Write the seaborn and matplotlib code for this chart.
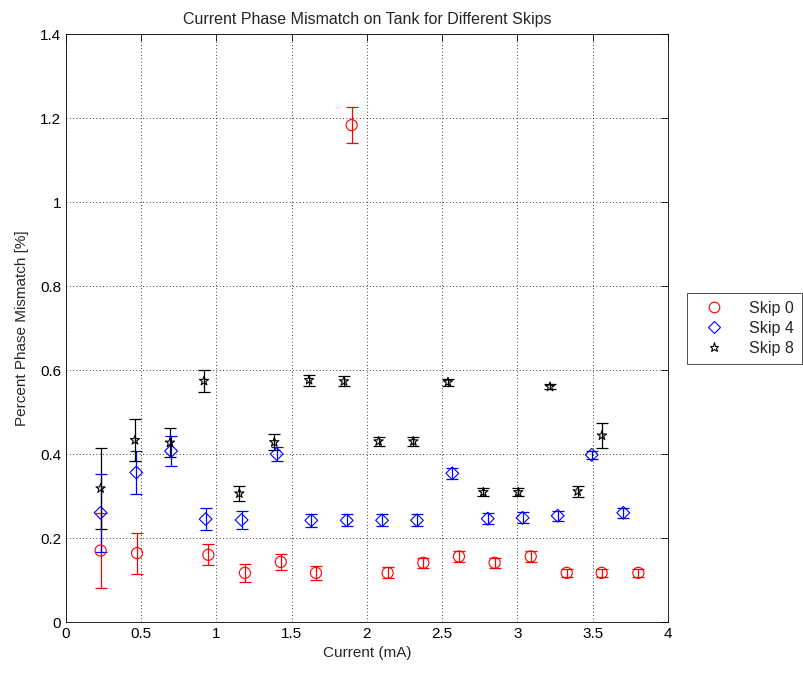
import matplotlib
matplotlib.use("Agg")
import matplotlib.pyplot as plt
import seaborn as sns
import pandas as pd
from matplotlib.lines import Line2D

# Skip 0
x_skip0 = [0.230, 0.472, 0.946, 1.189, 1.427, 1.661, 1.898, 2.137, 2.374, 2.611, 2.848, 3.088, 3.327, 3.559, 3.803]
y_skip0 = [0.170, 0.164, 0.160, 0.117, 0.143, 0.117, 1.183, 0.117, 0.141, 0.156, 0.141, 0.156, 0.117, 0.117, 0.117]
e_skip0 = [0.090, 0.049, 0.025, 0.021, 0.019, 0.016, 0.043, 0.013, 0.012, 0.012, 0.012, 0.012, 0.010, 0.010, 0.010]

# Skip 4
x_skip4 = [0.230, 0.467, 0.698, 0.928, 1.167, 1.400, 1.630, 1.865, 2.100, 2.332, 2.567, 2.802, 3.034, 3.267, 3.493, 3.703]
y_skip4 = [0.260, 0.356, 0.407, 0.245, 0.243, 0.400, 0.242, 0.242, 0.242, 0.242, 0.354, 0.246, 0.248, 0.253, 0.398, 0.260]
e_skip4 = [0.093, 0.052, 0.035, 0.026, 0.022, 0.017, 0.016, 0.014, 0.014, 0.014, 0.013, 0.013, 0.013, 0.012, 0.010, 0.012]

# Skip 8
x_skip8 = [0.230, 0.458, 0.691, 0.917, 1.152, 1.384, 1.615, 1.847, 2.077, 2.308, 2.538, 2.773, 3.005, 3.216, 3.400, 3.561]
y_skip8 = [0.318, 0.433, 0.427, 0.574, 0.306, 0.428, 0.576, 0.573, 0.430, 0.430, 0.571, 0.309, 0.309, 0.560, 0.311, 0.444]
e_skip8 = [0.096, 0.050, 0.035, 0.027, 0.019, 0.019, 0.013, 0.012, 0.011, 0.011, 0.008, 0.010, 0.010, 0.006, 0.013, 0.030]

series_names = ["Skip 0", "Skip 4", "Skip 8"]
x_ticks = [0, 0.5, 1, 1.5, 2, 2.5, 3, 3.5, 4]
y_ticks = [0, 0.2, 0.4, 0.6, 0.8, 1.0, 1.2, 1.4]

sns.set_style("white")
plt.rcParams["font.family"] = ["Liberation Sans", "DejaVu Sans"]

fig = plt.figure(figsize=(8.04, 6.75), dpi=100)
ax = fig.add_axes([66 / 804, 1 - 622 / 675, 602 / 804, 588 / 675])

styles = [
    dict(color="#ff0000", marker="o", size=8),
    dict(color="#0000ff", marker="D", size=6.5),
    dict(color="#000000", marker="*", size=7),
]

frames = []
for name, xs, ys in zip(series_names, [x_skip0, x_skip4, x_skip8], [y_skip0, y_skip4, y_skip8]):
    frames.append(pd.DataFrame({"current": xs, "mismatch": ys, "series": name}))
df = pd.concat(frames, ignore_index=True)

for name, xs, ys, es, st in zip(series_names,
                                [x_skip0, x_skip4, x_skip8],
                                [y_skip0, y_skip4, y_skip8],
                                [e_skip0, e_skip4, e_skip8],
                                styles):
    ax.errorbar(xs, ys, yerr=es, fmt="none", ecolor=st["color"], elinewidth=0.9,
                capsize=4, capthick=0.9, zorder=2)
    sub = df[df["series"] == name]
    sns.scatterplot(data=sub, x="current", y="mismatch", ax=ax, marker=st["marker"],
                    s=st["size"] ** 2, facecolor="none", edgecolor=st["color"],
                    linewidth=0.8, zorder=3, legend=False)

ax.set_xlim(0, 4)
ax.set_ylim(0, 1.4)
ax.set_xticks(x_ticks)
ax.set_xticklabels([f"{t:g}" for t in x_ticks])
ax.set_yticks(y_ticks)
ax.set_yticklabels([f"{t:g}" for t in y_ticks])
ax.grid(True, color="black", linestyle=(0, (1, 3)), linewidth=0.6)
ax.tick_params(axis="both", direction="in", length=5, width=0.6, labelsize=11,
               top=True, right=True, colors="black")
for sp in ax.spines.values():
    sp.set_color("black")
    sp.set_linewidth(0.6)

ax.set_xlabel("Current (mA)", fontsize=11)
ax.set_ylabel("Percent Phase Mismatch [%]", fontsize=11, labelpad=8)
ax.set_title("Current Phase Mismatch on Tank for Different Skips", fontsize=11.5, pad=7)

handles = [Line2D([], [], linestyle="none", marker=st["marker"], markersize=st["size"] * 0.95,
                  markerfacecolor="none", markeredgecolor=st["color"], markeredgewidth=0.8)
           for st in styles]
leg = fig.legend(handles, series_names, loc="upper left",
                 bbox_to_anchor=(687 / 804, 1 - 293 / 675), fontsize=11.5,
                 frameon=True, fancybox=False, edgecolor="black", borderpad=0.5,
                 handlelength=2.4, handletextpad=1.0, labelspacing=0.3, borderaxespad=0)
leg.get_frame().set_linewidth(0.6)

fig.savefig("out.png", dpi=100)
